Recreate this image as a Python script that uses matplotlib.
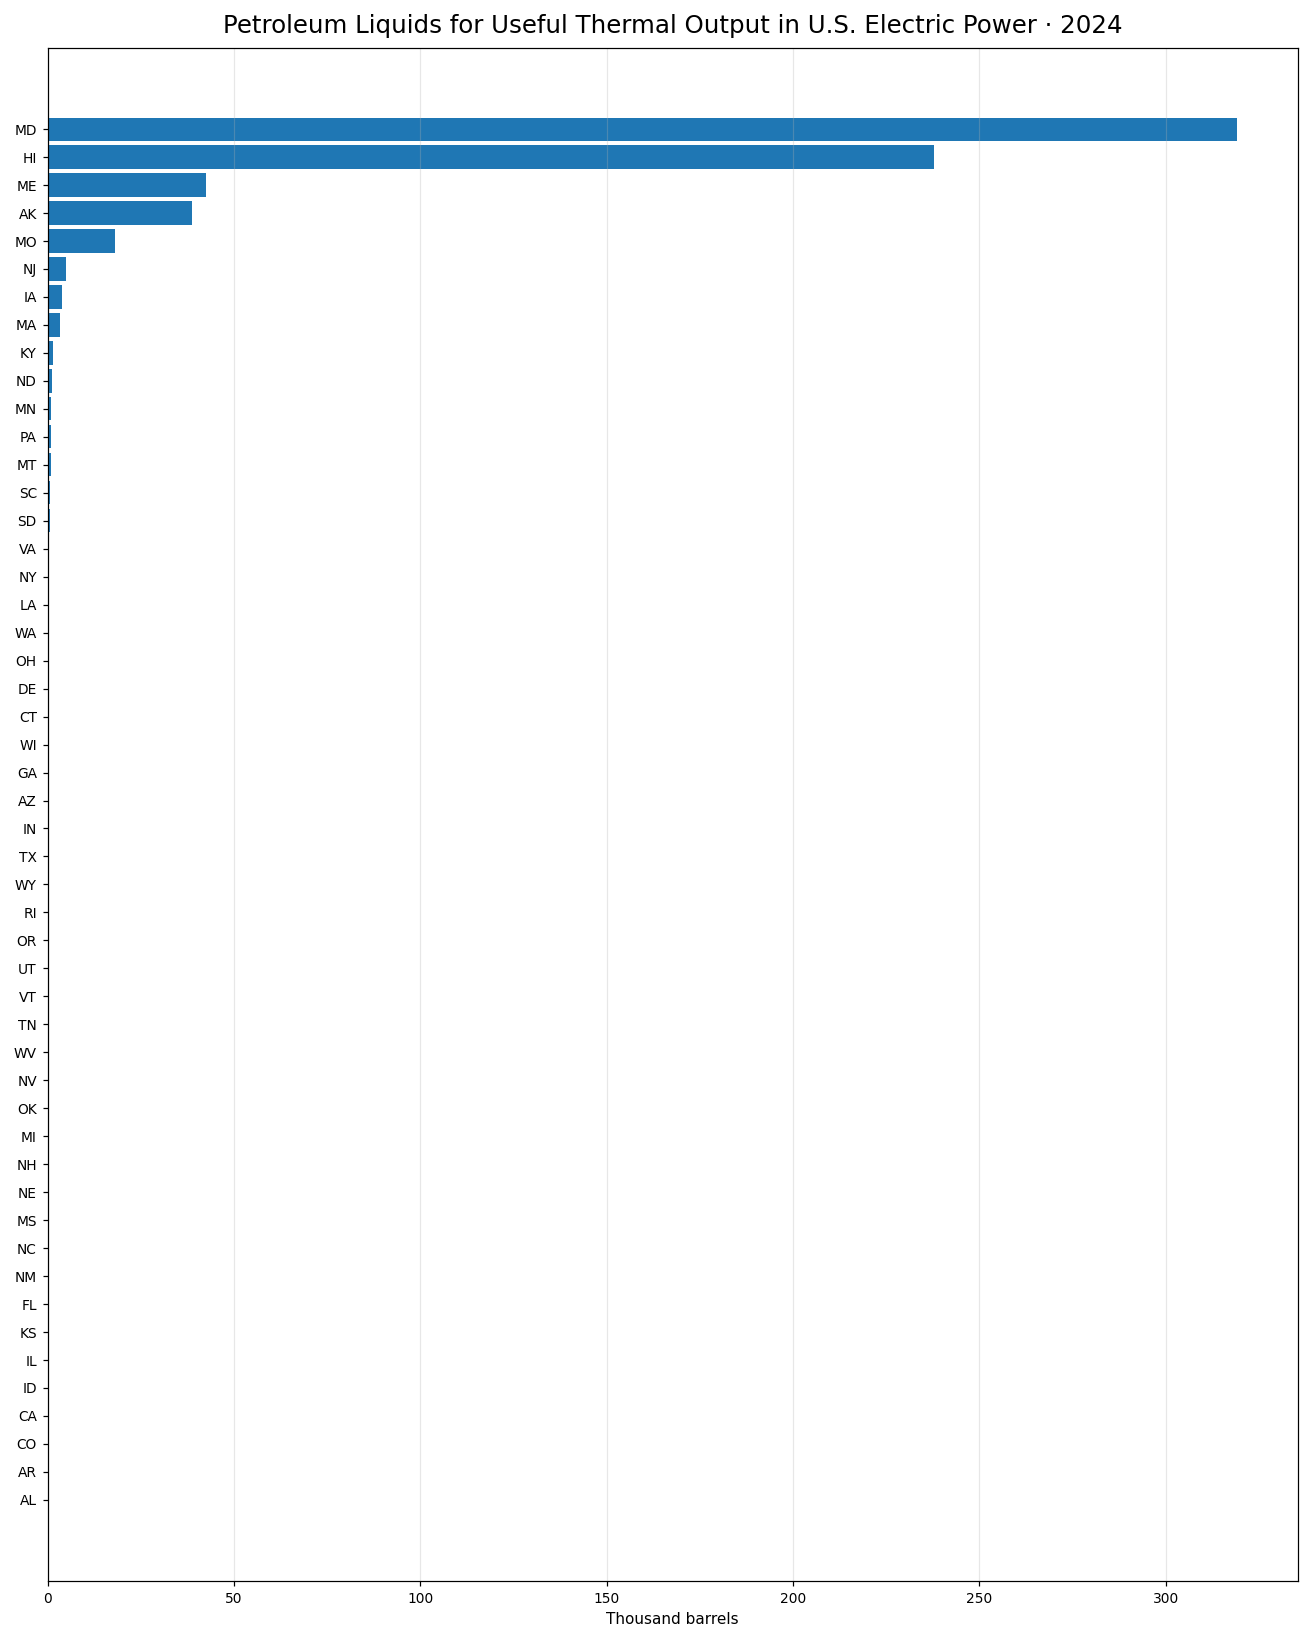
import numpy as np
import matplotlib
matplotlib.use("Agg")
import matplotlib.pyplot as plt

states = ["MD", "HI", "ME", "AK", "MO", "NJ", "IA", "MA", "KY", "ND",
          "MN", "PA", "MT", "SC", "SD", "VA", "NY", "LA", "WA", "OH",
          "DE", "CT", "WI", "GA", "AZ", "IN", "TX", "WY", "RI", "OR",
          "UT", "VT", "TN", "WV", "NV", "OK", "MI", "NH", "NE", "MS",
          "NC", "NM", "FL", "KS", "IL", "ID", "CA", "CO", "AR", "AL"]
# thousand barrels
values = [319.2, 237.8, 42.5, 38.8, 18.1, 5.0, 3.9, 3.4, 1.5, 1.25,
          0.95, 0.9, 0.9, 0.7, 0.7, 0.45, 0, 0, 0, 0,
          0, 0, 0, 0, 0, 0, 0, 0, 0, 0,
          0, 0, 0, 0, 0, 0, 0, 0, 0, 0,
          0, 0, 0, 0, 0, 0, 0, 0, 0, 0]

DPI = 110
fig, ax = plt.subplots(figsize=(1308 / DPI, 1639 / DPI), dpi=DPI)
y = np.arange(len(states))
ax.barh(y, values, height=0.83, color="#1f77b4")
ax.set_yticks(y)
ax.set_yticklabels(states)
ax.tick_params(labelsize=9)
ax.set_ylim(len(states) - 1 + 2.9, -2.9)
ax.set_xlim(0, 335.5)
ax.grid(True, axis="x", alpha=0.3)
ax.set_xlabel("Thousand barrels", fontsize=10)
ax.set_title("Petroleum Liquids for Useful Thermal Output in U.S. Electric Power · 2024",
             fontsize=16, pad=10)

fig.subplots_adjust(left=47.5 / 1308, right=1298 / 1308, top=1 - 48 / 1639, bottom=1 - 1581 / 1639)
plt.savefig("out.png", dpi=DPI)
plt.close()
